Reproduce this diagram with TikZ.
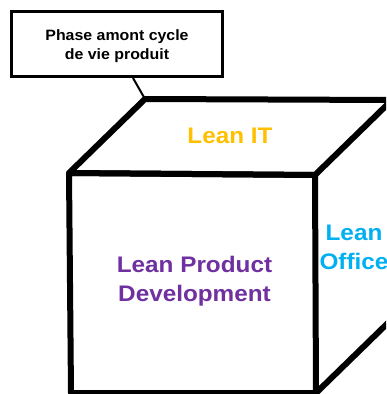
\documentclass[tikz,border=0pt]{standalone}
\usepackage{fontspec}
\setmainfont{Liberation Sans}
\newfontfamily\bigsans[FakeStretch=1.08]{Liberation Sans}
\newfontfamily\smallsans[FakeStretch=1.06]{Liberation Sans}
\definecolor{leanorange}{HTML}{FFC000}
\definecolor{leanpurple}{HTML}{7030A0}
\definecolor{leancyan}{HTML}{00B0F0}
\begin{document}
\begin{tikzpicture}[x=1pt,y=-1pt,
  cubeline/.style={line width=6pt,line join=round,black},
  calloutbox/.style={draw=black,line width=3pt,fill=white,minimum width=211pt,minimum height=65pt,inner sep=0pt},
  calltxt/.style={font=\smallsans\bfseries\fontsize{15}{18.6}\selectfont,align=center,inner sep=0pt},
  bigtxt/.style={font=\bigsans\bfseries\fontsize{22.5}{28.8}\selectfont,align=center,inner sep=0pt},
  leader/.style={line width=2pt,black}]
\clip (0,0) rectangle (386,394);
\fill[white] (0,0) rectangle (386,394);
% cube corners
\coordinate (ftl) at (69,173);
\coordinate (ftr) at (315,175);
\coordinate (fbr) at (316,393);
\coordinate (fbl) at (71,393);
\coordinate (btl) at (145,99);
\coordinate (btr) at (392,100);
\coordinate (bbr) at (393,318);
% leader from callout to cube
\node[calloutbox] (callout) at (117,44) {};
\draw[leader] ([xshift=16pt]callout.south) -- (btl);
% cube edges
\draw[cubeline] (ftl) -- (btl) -- (btr) -- (ftr) -- cycle;
\draw[cubeline] (ftl) -- (ftr) -- (fbr) -- (fbl) -- cycle;
\draw[cubeline] (fbr) -- (bbr);
% texts
\node[calltxt] (calltext) at ([yshift=-2pt]callout.center) {Phase amont cycle\\de vie produit};
\node[bigtxt,text=leanorange,anchor=base] (leanit) at (230,143.5) {Lean IT};
\node[bigtxt,text=leanpurple] (leanpd) at (194.5,281.5) {Lean Product\\Development};
\node[bigtxt,text=leancyan] (leanoffice) at (354,247.6) {Lean\\Office};
\end{tikzpicture}
\end{document}
